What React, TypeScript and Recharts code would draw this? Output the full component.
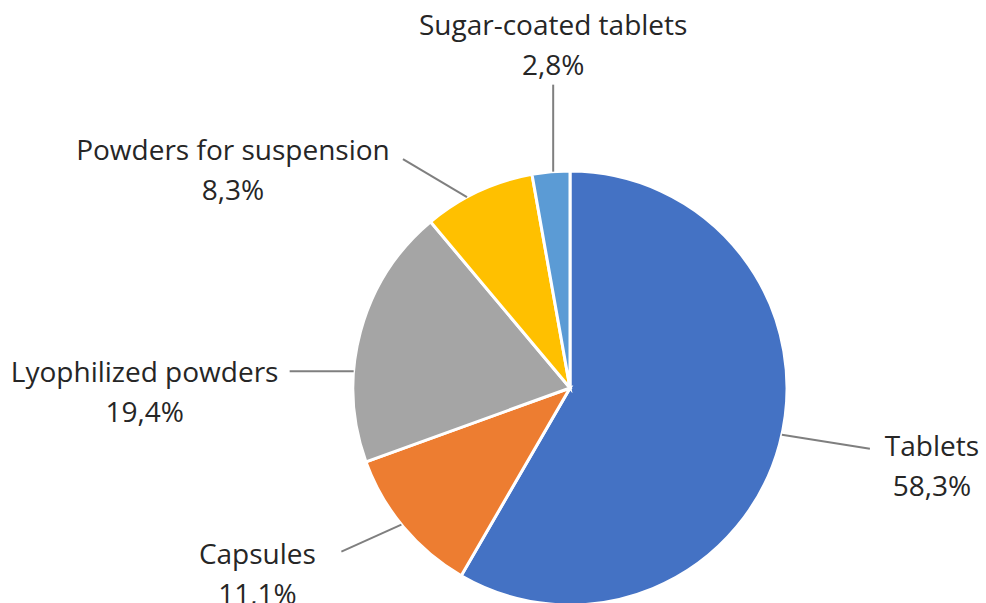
import React from 'react';
import { PieChart, Pie, Cell } from 'recharts';

const categories = ['Tablets', 'Capsules', 'Lyophilized powders', 'Powders for suspension', 'Sugar-coated tablets'];
const shares = [58.3, 11.1, 19.4, 8.3, 2.8];
const colors = ['#4472C4', '#ED7D31', '#A5A5A5', '#FFC000', '#5B9BD5'];

// leader-line layout per slice: angle shift from the slice mid-angle, line vector, text offset from line end
const labelLayout = [
  { shift: 2.6, line: [88, 14], text: [62, -4] },
  { shift: -0.9, line: [-60, 27], text: [-84, 1] },
  { shift: 10.6, line: [-64, 0], text: [-145, 0] },
  { shift: 3.3, line: [-64, -38], text: [-170, -10] },
  { shift: -0.6, line: [0, -87], text: [0, -61] },
];

const data = categories.map((name, i) => ({ name, value: shares[i] }));

const RAD = Math.PI / 180;
const FONT = "'Open Sans', sans-serif";

const renderLabel = (props: any) => {
  const { cx, cy, midAngle, outerRadius, index, name, value } = props;
  const lay = labelLayout[index];
  const a = (midAngle + lay.shift) * RAD;
  const x0 = cx + outerRadius * Math.cos(a);
  const y0 = cy - outerRadius * Math.sin(a);
  const x1 = x0 + lay.line[0];
  const y1 = y0 + lay.line[1];
  const tx = x1 + lay.text[0];
  const ty = y1 + lay.text[1];
  const pct = value.toFixed(1).replace('.', ',') + '%';
  return (
    <g key={`lbl-${index}`}>
      <line x1={x0} y1={y0} x2={x1} y2={y1} stroke="#7F7F7F" strokeWidth={2} />
      <text x={tx} y={ty} textAnchor="middle" dominantBaseline="central" fill="#262626" fontSize={28} fontFamily={FONT}>
        {name}
      </text>
      <text x={tx} y={ty + 40} textAnchor="middle" dominantBaseline="central" fill="#262626" fontSize={28} fontFamily={FONT}>
        {pct}
      </text>
    </g>
  );
};

export default function App() {
  return (
    <div style={{ position: 'absolute', left: 0, top: 0, width: 986, height: 603, background: '#fff' }}>
      <PieChart width={986} height={603} margin={{ top: 0, right: 0, bottom: 0, left: 0 }}>
        <Pie
          data={data}
          dataKey="value"
          nameKey="name"
          cx={570}
          cy={388}
          outerRadius={217}
          startAngle={90}
          endAngle={-270}
          stroke="#FFFFFF"
          strokeWidth={3}
          label={renderLabel}
          labelLine={false}
          isAnimationActive={false}
        >
          {data.map((d, i) => (
            <Cell key={d.name} fill={colors[i]} />
          ))}
        </Pie>
      </PieChart>
    </div>
  );
}
